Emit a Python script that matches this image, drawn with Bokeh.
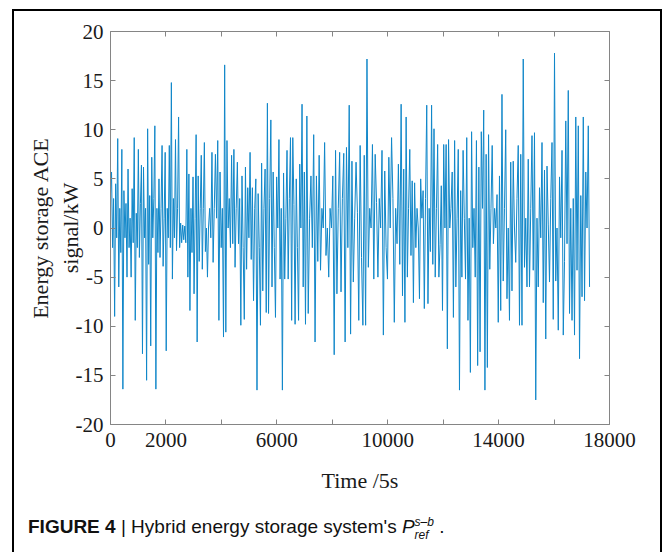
import numpy as np
from bokeh.plotting import figure
from bokeh.models import Range1d, LinearAxis, FixedTicker, Div, ColumnDataSource
from bokeh.layouts import column
from bokeh.embed import file_html
from bokeh.resources import INLINE

# ---- data (ACE signal, kW), five consecutive stretches ----
seg_bounds = [0, 3535, 7034, 10533, 14031, 17280]

seg1 = [3.5, 5.7, -2, 3, -9, 4.5, -1, 9.1, -6, 2, -2.5, 8, -16.4, 3.8, -1, 2.5, -5, 6,
        -2, 1, -5, 4, -1.5, 9.2, -9.4, 1.5, -2, 8, -3, 2.5, 6.4, -12.8, 6.2, -1, 2,
        -15.5, 10.1, -3.7, 3.3, -12, 7.2, -1, 3, 10.4, -16.4, 2, -2.5, 5, -3, 2, 8.4,
        -3.9, 1, 7.7, -12.5, 2, -1, 8.4, -2, 14.8, -5.2, 3, -1, 9, -2.3, 2, 11.3, -2,
        0.5, -1.5, 0.3, -1.2, 0.2, -1.5, 8, -5, 5.5, -8.4, 2, -2.5, 5.2, -6.7, 1, 9.5,
        -11.6, 5.3, -3.4, 2, 7.4, -4.2, 2, 8.7, -2.4, 0, -5]

seg2 = [0, 2, -1, 7.7, -3.5, 2, 7.5, 1, 8.9, -9.4, 5.7, -2, 2, -11.1, 16.6, -10.6, 8.9,
        0, 3, -2, 7.4, -1.6, 8, -4, 2, 6.7, -1.6, 3, -9.9, 5.3, -2, -9.3, 6.2, -4.2,
        4.1, -1, 7.7, -3.2, 4.1, -7.4, 2, 5, -16.5, 3.5, -2, -9.9, 6.6, -6.4, 2, 6,
        -8.6, 12.7, -8.7, 3, 11, -6, 5.7, -2, -9.1, 5.2, 0, 9, -5.2, 2, -16.5, 5.6,
        -5.2, 1, 7.9, -5.2, 3, 9.2, -9.4, 9.2, 2.4, -9.8, 5, -2, -9.4, 6.5, 0, 12.6,
        -6, 5.7]

seg3 = [-9.8, 11.4, -8.7, 1, 5.3, -2, 9.5, -11.6, 5.3, -3.4, 7.4, -4.3, 2, 0, 8.7,
        -2.8, 0, -5, 2, 0, 5.3, -12.9, 7.9, -6.7, 2, 7.7, -6.5, 3, 7.6, -11.6, 8.2, -2,
        12.5, -10.8, 6.8, -5.5, 1, 6.7, 1.6, -9.4, 8.4, -3, -9.9, 7.4, -9.9, 17.2, -4,
        2, 0, 8.5, -5.2, 7.5, 2.6, -5, 3, 0, 7.9, -10.9, 5.8, -2, -5.2, 7.2, 0, 9.2, 3,
        -9.6, 2, -1.6, 6.5, -3.7, 12.6]

seg4 = [-6.9, 6, -9.6, 11.3, -5, 2, 8, -2.8, 4.8, -7.6, 4.6, -2, 2, 0, -7.2, 5, 1, 3.8,
        -8.2, 3, 12.5, -7.7, 2, -2.4, 12.5, -3.7, 10.1, -5, 2, 8.5, -5, -1.7, 4.3, -8.4,
        8.5, 0, 8.5, -12.3, 9, 0, 2, 5.7, -9.1, 8.9, -6, 1, 8, -16.5, 3.8, -5, 7.9, 1,
        -5.2, 9.2, -9.4, 1, -14.7, 9.8, -2, 2, -5, 8.9, -14, 6.2, -12.6, 9.8, 2, 12,
        -16.5, 7.5, -14.2, 9.5, -4.2, 2, 8.4, -1.6, 2, 0, 3.4, -9.6]

seg5 = [5.3, -8.4, 13.6, -5.4, 2, 10, -7.2, 0, -9.4, 6.7, -6.4, 6.8, 0, -3.5, 3, 8.4,
        -9.9, 7.5, -9.9, 17.2, -4, 1, -6, 7, -6, 2, 9.4, -4.3, 9.7, -17.5, 1, -6, 4.1,
        -1, 8.7, -7.6, 5.9, -11.3, 6.3, 0.4, -5.5, 3, 8.7, -9.3, 17.8, -5.4, 0, -10.4,
        5.2, -1, 7.9, -10.9, -3.4, 10.9, -1.6, 14, -8.7, 2, -9.4, 3, -10.9, 11.3, -4.3,
        10.4, -13.3, 3.3, -7, 11.3, -7.4, 5.7, 0, 10.4, -6]

segments = [seg1, seg2, seg3, seg4, seg5]

x_ticks = [0, 2000, 4000, 6000, 8000, 10000, 12000, 14000, 16000, 18000]
x_tick_labels = {0: "0", 2000: "2000", 4000: "", 6000: "6000", 8000: "",
                 10000: "10000", 12000: "", 14000: "14000", 16000: "", 18000: "18000"}
y_ticks = [-20, -15, -10, -5, 0, 5, 10, 15, 20]
y_tick_labels = {-20: "-20", -15: "-15", -10: "-10", -5: "-5", 0: "0",
                 5: "5", 10: "10", 15: "15", 20: "20"}

# sample positions: each stretch's readings spread over its time span
t_all, v_all = [], []
for k, seg in enumerate(segments):
    t0, t1 = seg_bounds[k], seg_bounds[k + 1]
    n = len(seg)
    t_all.extend(np.linspace(t0, t1, n, endpoint=(k == len(segments) - 1)).tolist())
    v_all.extend(seg)

src = ColumnDataSource(dict(t=t_all, v=v_all))

SERIF = "Liberation Serif"
AXIS_GRAY = "#858585"
TEXT = "#1a1a1a"

p = figure(width=646, height=489,
           x_range=Range1d(0, 18000), y_range=Range1d(-20, 20),
           output_backend="svg", toolbar_location=None,
           min_border_left=96, min_border_right=51, min_border_top=20, min_border_bottom=76,
           background_fill_color="white", border_fill_color="white")
p.outline_line_color = None
p.xgrid.visible = False
p.ygrid.visible = False

p.line("t", "v", source=src, line_color="#1187c9", line_width=1)

xa = p.xaxis[0]
xa.ticker = FixedTicker(ticks=x_ticks)
xa.major_label_overrides = {k: v for k, v in x_tick_labels.items()}
xa.axis_label = "Time /5s"

ya = p.yaxis[0]
ya.ticker = FixedTicker(ticks=y_ticks)
ya.major_label_overrides = {k: v for k, v in y_tick_labels.items()}
ya.axis_label = "Energy storage ACE\nsignal/kW"

top = LinearAxis(ticker=FixedTicker(ticks=x_ticks),
                 major_label_overrides={k: "" for k in x_ticks})
right = LinearAxis(ticker=FixedTicker(ticks=y_ticks),
                   major_label_overrides={k: "" for k in y_ticks})
p.add_layout(top, "above")
p.add_layout(right, "right")

for ax in [xa, ya, top, right]:
    ax.axis_line_color = AXIS_GRAY
    ax.axis_line_width = 1
    ax.major_tick_line_color = AXIS_GRAY
    ax.major_tick_in = 5
    ax.major_tick_out = 0
    ax.minor_tick_line_color = None
    ax.major_label_text_font = SERIF
    ax.major_label_text_font_size = "21px"
    ax.major_label_text_color = TEXT
    ax.axis_label_text_font = SERIF
    ax.axis_label_text_font_size = "22px"
    ax.axis_label_text_font_style = "normal"
    ax.axis_label_text_color = TEXT

xa.major_label_standoff = 8
xa.axis_label_standoff = 18
ya.major_label_standoff = 7
ya.axis_label_standoff = -10
top.major_label_text_font_size = "0px"
right.major_label_text_font_size = "0px"

caption = Div(
    text=("<span style='font-weight:bold'>FIGURE 4</span> | Hybrid energy storage system's "
          "<i>P</i><span style='display:inline-block;vertical-align:-6px;line-height:13px;"
          "font-size:12px;font-style:italic;'>s&#8211;b<br>ref</span> ."),
    width=646, height=42,
    styles={"font-family": "Liberation Sans", "font-size": "19px", "color": "#111",
            "padding-left": "9px", "padding-top": "8px", "box-sizing": "border-box"})

layout = column(p, caption, width=650,
                styles={"border": "2px solid #000", "border-bottom": "none",
                        "box-sizing": "border-box", "background": "white",
                        "margin-left": "12px", "position": "relative", "top": "9px"})

open("out.html", "w").write(file_html(layout, INLINE))
